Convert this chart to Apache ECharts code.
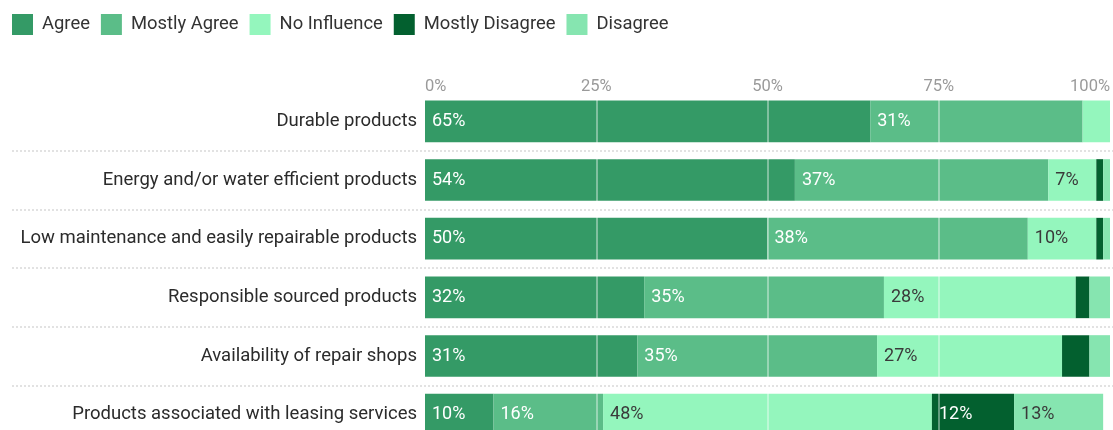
<!DOCTYPE html>
<html>
<head>
<meta charset="utf-8">
<script src="https://cdn.jsdelivr.net/npm/echarts@6/dist/echarts.min.js"></script>
<style>
  html, body { margin: 0; padding: 0; background: #ffffff; overflow: hidden; }
  #chart { width: 1113px; height: 452px; }
</style>
</head>
<body>
<div id="chart"></div>
<script>
// Survey: what influences purchase decisions (share of respondents, %)
const categories = [
  'Durable products',
  'Energy and/or water efficient products',
  'Low maintenance and easily repairable products',
  'Responsible sourced products',
  'Availability of repair shops',
  'Products associated with leasing services'
];
const seriesNames = ['Agree', 'Mostly Agree', 'No Influence', 'Mostly Disagree', 'Disagree'];
const agree          = [65, 54, 50, 32, 31, 10];
const mostlyAgree    = [31, 37, 38, 35, 35, 16];
const noInfluence    = [4, 7, 10, 28, 27, 48];
const mostlyDisagree = [0, 1, 1, 2, 4, 12];
const disagree       = [0, 1, 1, 3, 3, 13];
const tickLabels = ['0%', '25%', '50%', '75%', '100%'];

const values = [agree, mostlyAgree, noInfluence, mostlyDisagree, disagree];
const colors = ['#349a66', '#5bbd88', '#94f6bd', '#03602f', '#86e5b0'];
const labelColors = ['#ffffff', '#ffffff', '#3a3a3a', '#ffffff', '#3a3a3a'];

const FONT = 'Roboto, "Noto Sans", sans-serif';
const chart = echarts.init(document.getElementById('chart'), null, { renderer: 'canvas' });

const series = seriesNames.map((name, i) => ({
  name: name,
  type: 'bar',
  stack: 'total',
  xAxisIndex: 0,
  yAxisIndex: 0,
  barCategoryGap: '29%',
  itemStyle: { color: colors[i] },
  label: {
    show: true,
    position: 'insideLeft',
    distance: 7,
    color: labelColors[i],
    fontFamily: FONT,
    fontSize: 18,
    formatter: p => (p.value >= 5 ? p.value + '%' : '')
  },
  emphasis: { disabled: true },
  data: values[i]
}));

chart.setOption({
  animation: false,
  textStyle: { fontFamily: FONT },
  legend: {
    left: 12,
    top: 14,
    padding: 0,
    itemWidth: 21,
    itemHeight: 21,
    itemGap: 11,
    icon: 'rect',
    textStyle: { fontSize: 18.4, color: '#333', fontFamily: FONT, padding: [0, 0, 0, 4] },
    data: seriesNames
  },
  grid: [
    { left: 425, right: 0, top: 92, height: 352 },
    { left: 12, right: 0, top: 92, height: 352 }
  ],
  xAxis: [
    {
      type: 'value',
      gridIndex: 0,
      position: 'top',
      min: 0,
      max: 100,
      interval: 25,
      z: 10,
      axisLine: { show: false },
      axisTick: { show: false },
      axisLabel: {
        margin: -3,
        color: '#9a9a9a',
        fontSize: 16.5,
        fontFamily: FONT,
        alignMinLabel: 'left',
        alignMaxLabel: 'right',
        formatter: v => tickLabels[v / 25]
      },
      splitLine: {
        show: true,
        showMinLine: false,
        showMaxLine: false,
        lineStyle: { color: 'rgba(255,255,255,0.38)', width: 2 }
      }
    },
    {
      type: 'value',
      gridIndex: 1,
      show: false,
      min: 0,
      max: 100
    }
  ],
  yAxis: [
    {
      type: 'category',
      gridIndex: 0,
      inverse: true,
      data: categories,
      axisLine: { show: false },
      axisTick: { show: false },
      splitLine: { show: false },
      axisLabel: { margin: 8, color: '#2b2b2b', fontSize: 18.5, fontFamily: FONT }
    },
    {
      type: 'category',
      gridIndex: 1,
      inverse: true,
      data: categories,
      axisLine: { show: false },
      axisTick: { show: false },
      axisLabel: { show: false },
      splitLine: {
        show: true,
        showMinLine: false,
        showMaxLine: false,
        lineStyle: { color: '#e2e2e2', width: 2, type: [2, 2] }
      }
    }
  ],
  series: series
});
</script>
</body>
</html>
